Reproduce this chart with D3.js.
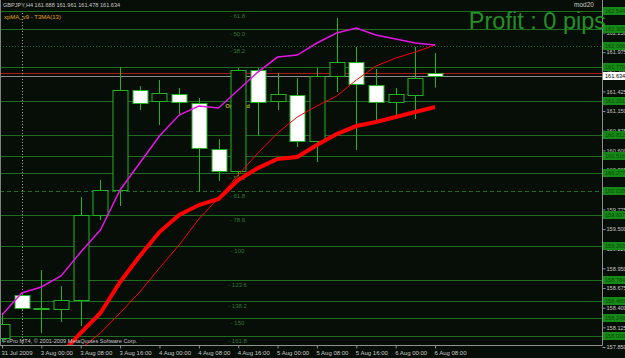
<!DOCTYPE html>
<html>
<head>
<meta charset="utf-8">
<script src="https://cdn.jsdelivr.net/npm/d3@7"></script>
<style>
  body { margin: 0; background: #070d07; }
  svg { display: block; }
</style>
</head>
<body>
<div id="chart"></div>
<script>
// GBPJPY H4 chart, MT4 style
const symbol = 'GBPJPY,H4'
const lastQuote = [161.688, 161.961, 161.478, 161.634]
const bidPrice = 161.634
const askPrice = 161.688

const timeLabels = ['31 Jul 2009', '3 Aug 00:00', '3 Aug 08:00', '3 Aug 16:00', '4 Aug 00:00', '4 Aug 08:00',
  '4 Aug 16:00', '5 Aug 00:00', '5 Aug 08:00', '5 Aug 16:00', '6 Aug 00:00', '6 Aug 08:00']
const timeLabelBars = [0, 2, 4, 6, 8, 10, 12, 14, 16, 18, 20, 22]

const opens = [157.976, 158.577, 158.395, 158.381, 158.507, 159.696, 160.046, 161.444, 161.291, 161.388, 161.263, 160.619,
  160.312, 161.724, 161.291, 161.374, 160.731, 161.640, 161.836, 161.514, 161.277, 161.374, 161.688]
const highs = [158.326, 158.605, 158.927, 158.703, 159.948, 160.186, 161.766, 161.500, 161.584, 161.472, 161.333, 160.759,
  161.752, 161.752, 161.682, 161.612, 161.752, 162.451, 162.046, 161.738, 161.472, 162.046, 161.961]
const lows = [157.920, 158.367, 158.046, 158.200, 158.144, 159.626, 159.822, 161.165, 160.955, 161.095, 160.018, 160.172,
  160.242, 160.801, 161.165, 160.647, 160.437, 161.416, 160.605, 160.997, 161.067, 161.039, 161.478]
const closes = [158.172, 158.395, 158.388, 158.507, 159.696, 160.046, 161.444, 161.263, 161.402, 161.277, 160.633, 160.312,
  161.724, 161.277, 161.388, 160.731, 161.640, 161.836, 161.528, 161.277, 161.388, 161.612, 161.634]

// xpMA_v9 lines
const maMagenta = [158.298, 158.605, 158.689, 158.843, 159.179, 159.486, 160.046, 160.423, 160.801, 161.095, 161.221, 161.193,
  161.444, 161.696, 161.906, 161.934, 162.102, 162.242, 162.312, 162.214, 162.158, 162.102, 162.074]
const maFast = [null, null, 157.320, 157.598, 157.822, 158.046, 158.326, 158.619, 158.955, 159.277, 159.640, 159.934,
  160.256, 160.563, 160.843, 161.067, 161.221, 161.360, 161.584, 161.780, 161.892, 161.976, 162.074]
const maSlow = [null, null, 157.444, 157.752, 158.046, 158.326, 158.759, 159.123, 159.458, 159.696, 159.836, 159.920,
  160.186, 160.353, 160.479, 160.507, 160.675, 160.829, 160.941, 160.997, 161.067, 161.137, 161.207]

// fibo from 0 -> 100
const fibZero = 161.291
const fibHundred = 159.263
const fibRatios = [-0.618, -0.5, -0.382, -0.236, 0, 0.236, 0.382, 0.5, 0.618, 0.786, 1, 1.236, 1.382, 1.5, 1.618]
const fibLabels = ['61.8', '50.0', '38.2', '23.6', 'OnTrend', '23.6', '38.2', '50.0', '61.8', '78.6', '100', '123.6', '138.2', '150', '161.8']

const priceTicks = [162.525, 162.250, 161.975, 161.700, 161.425, 161.150, 160.875, 160.600, 160.325, 160.050,
  159.775, 159.500, 159.225, 158.950, 158.675, 158.400, 158.125, 157.850]

const width = 625
const height = 358
const plotRight = 602
const plotBottom = 345
const bg = '#070d07'
const candleGreen = '#22b322'
const font = '"Liberation Sans", Arial, sans-serif'

const svg = d3.select('#chart').append('svg')
  .attr('width', width).attr('height', height)
  .style('font-family', font)

svg.append('rect').attr('width', width).attr('height', height).attr('fill', bg)

const x = d3.scaleLinear().domain([0, 22]).range([2, 435])
const y = d3.scaleLinear().domain([157.85, 162.55]).range([347, 11])
const fibPrice = r => fibZero - r * (fibZero - fibHundred)

svg.append('defs').append('clipPath').attr('id', 'plot')
  .append('rect').attr('x', 0).attr('y', 0).attr('width', plotRight).attr('height', plotBottom)

const g = svg.append('g').attr('clip-path', 'url(#plot)')

// fibo levels
fibRatios.forEach((r, i) => {
  const yy = Math.round(y(fibPrice(r))) + 0.5
  g.append('line')
    .attr('x1', 0).attr('x2', plotRight).attr('y1', yy).attr('y2', yy)
    .attr('stroke', '#1f6e1f').attr('stroke-width', 1)
    .attr('stroke-dasharray', r === -0.382 ? '1,2' : r === 0.618 ? '4,3' : null)
  const isTrend = r === 0
  g.append('text')
    .attr('x', 237.5).attr('y', yy + 6.5)
    .attr('text-anchor', 'middle')
    .attr('font-size', '6px')
    .attr('fill', isTrend ? '#b8a810' : '#2f7a2f')
    .attr('font-weight', isTrend ? 'bold' : null)
    .text(isTrend ? fibLabels[i] : '- ' + fibLabels[i])
})

// ask / bid lines
g.append('line').attr('x1', 0).attr('x2', plotRight)
  .attr('y1', Math.round(y(askPrice)) + 0.5).attr('y2', Math.round(y(askPrice)) + 0.5)
  .attr('stroke', '#b01818')
g.append('line').attr('x1', 0).attr('x2', plotRight)
  .attr('y1', Math.round(y(bidPrice)) + 0.5).attr('y2', Math.round(y(bidPrice)) + 0.5)
  .attr('stroke', '#8c8c8c')

// period separator
g.append('line').attr('x1', Math.round(x(1)) + 0.5).attr('x2', Math.round(x(1)) + 0.5)
  .attr('y1', 13).attr('y2', plotBottom)
  .attr('stroke', '#a0a0a0').attr('stroke-dasharray', '1,2')

// candles
const bars = opens.map((o, i) => ({ i, o, h: highs[i], l: lows[i], c: closes[i] }))
bars.forEach(b => {
  const cx = Math.round(x(b.i)) + 0.5
  g.append('line')
    .attr('x1', cx).attr('x2', cx).attr('y1', y(b.h)).attr('y2', y(b.l))
    .attr('stroke', candleGreen)
  const top = Math.round(y(Math.max(b.o, b.c)))
  const bot = Math.round(y(Math.min(b.o, b.c)))
  if (bot - top < 1) {
    g.append('line')
      .attr('x1', cx - 7.5).attr('x2', cx + 7.5).attr('y1', top + 0.5).attr('y2', top + 0.5)
      .attr('stroke', candleGreen)
  } else {
    g.append('rect')
      .attr('x', cx - 7.5).attr('y', top + 0.5)
      .attr('width', 15).attr('height', bot - top)
      .attr('fill', b.c < b.o ? '#ffffff' : bg)
      .attr('stroke', candleGreen)
  }
})

// moving averages
const line = d3.line()
  .defined(d => d != null)
  .x((d, i) => x(i))
  .y(d => y(d))

g.append('path').datum(maFast).attr('d', line)
  .attr('fill', 'none').attr('stroke', '#ff0000').attr('stroke-width', 1)
g.append('path').datum(maSlow).attr('d', line)
  .attr('fill', 'none').attr('stroke', '#ff0000').attr('stroke-width', 4)
g.append('path').datum(maMagenta).attr('d', line)
  .attr('fill', 'none').attr('stroke', '#e414e4').attr('stroke-width', 1.5)

// frame
svg.append('line').attr('x1', 0.5).attr('x2', 0.5).attr('y1', 0).attr('y2', plotBottom).attr('stroke', '#808080')
svg.append('line').attr('x1', plotRight + 0.5).attr('x2', plotRight + 0.5).attr('y1', 0).attr('y2', plotBottom + 0.5)
  .attr('stroke', '#909090')
svg.append('line').attr('x1', 0).attr('x2', plotRight + 0.5).attr('y1', plotBottom + 0.5).attr('y2', plotBottom + 0.5)
  .attr('stroke', '#909090')

// price axis
const yAxis = svg.append('g').attr('transform', `translate(${plotRight + 0.5},0)`)
  .call(d3.axisRight(y).tickValues(priceTicks).tickSize(3).tickPadding(1).tickFormat(d3.format('.3f')))
yAxis.select('.domain').remove()
yAxis.selectAll('line').attr('stroke', '#909090')
yAxis.selectAll('text').attr('fill', '#c8c8c8').attr('font-size', '5.6px').attr('font-family', font)

// fibo price tags
fibRatios.forEach(r => {
  const p = fibPrice(r)
  const yy = Math.round(y(p))
  svg.append('rect').attr('x', 603).attr('y', yy - 4).attr('width', 24).attr('height', 8).attr('fill', '#168a16')
  svg.append('text').attr('x', 605).attr('y', yy + 2.2)
    .attr('font-size', '5.6px').attr('fill', '#0a4a0a').text(d3.format('.3f')(p))
})

// bid tag
const by = Math.round(y(bidPrice))
svg.append('rect').attr('x', 603).attr('y', by - 4).attr('width', 24).attr('height', 8).attr('fill', '#ffffff')
svg.append('text').attr('x', 605).attr('y', by + 2.2).attr('font-size', '5.6px').attr('fill', '#000').text(d3.format('.3f')(bidPrice))

// time axis
const xAxis = svg.append('g').attr('transform', `translate(0,${plotBottom + 0.5})`)
  .call(d3.axisBottom(x).tickValues(timeLabelBars).tickSize(3).tickPadding(2)
    .tickFormat((d, i) => timeLabels[i]))
xAxis.select('.domain').remove()
xAxis.selectAll('line').attr('stroke', '#909090')
xAxis.selectAll('text').attr('fill', '#c8c8c8').attr('font-size', '6px').attr('font-family', font)
  .attr('text-anchor', 'start').attr('dx', -1)

// titles
svg.append('text').attr('x', 3).attr('y', 7).attr('font-size', '5.6px').attr('fill', '#c8c8c8')
  .text(`${symbol} ${lastQuote.map(d3.format('.3f')).join(' ')}`)
svg.append('text').attr('x', 4).attr('y', 19).attr('font-size', '6px').attr('fill', '#e0a020')
  .text('xpMA_v9 - T3MA(13)')
svg.append('text').attr('x', 574).attr('y', 6.5).attr('font-size', '6.5px').attr('fill', '#c8c8c8')
  .text('mod20')
svg.append('text').attr('x', 606).attr('y', 28.5).attr('font-size', '23.5px').attr('fill', '#238f28')
  .attr('text-anchor', 'end').text('Profit : 0 pips')
svg.append('text').attr('x', 3).attr('y', 343).attr('font-size', '5.6px').attr('fill', '#c8c8c8')
  .text('FxPro MT4, © 2001-2009 MetaQuotes Software Corp.')
</script>
</body>
</html>
